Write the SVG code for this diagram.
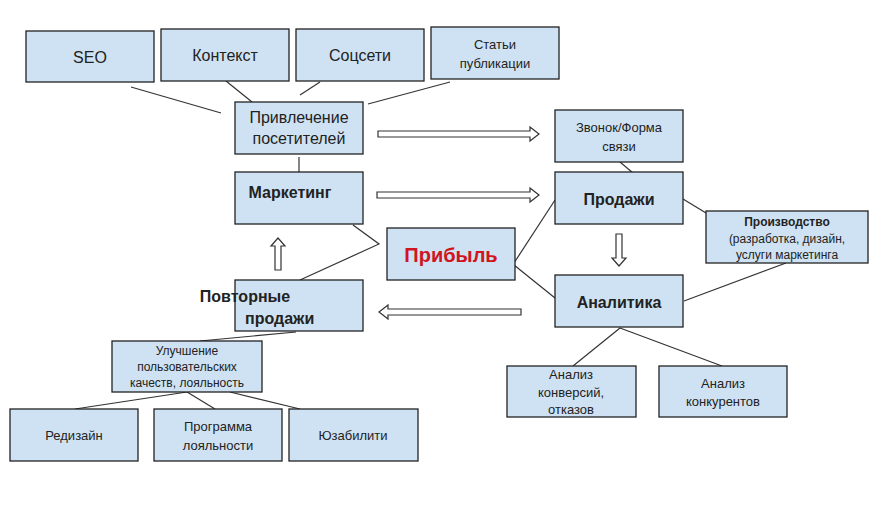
<svg xmlns="http://www.w3.org/2000/svg" width="894" height="507" viewBox="0 0 894 507">
<style>
.b{fill:#cfe2f3;stroke:#222;stroke-width:1.3}
.t{font-family:"Liberation Sans",Arial,sans-serif;fill:#222;text-anchor:middle}
.s{font-size:13px}.m{font-size:16px}.bd{font-weight:bold}
.c line,.c polyline{stroke:#333;stroke-width:1.2;fill:none}
.a{fill:#fff;stroke:#333;stroke-width:1.2}
</style>
<rect width="894" height="507" fill="#fff"/>
<g class="c">
<line x1="131" y1="87" x2="221" y2="113"/>
<line x1="226" y1="81" x2="252" y2="102"/>
<line x1="320" y1="82" x2="300" y2="95"/>
<line x1="450" y1="82" x2="368" y2="104"/>
<line x1="299" y1="157" x2="299" y2="172"/>
<polyline points="353,225 379,244 300,280"/>
<line x1="514" y1="263" x2="555" y2="200"/>
<line x1="514" y1="265" x2="555" y2="298"/>
<line x1="620" y1="162" x2="633" y2="173"/>
<line x1="683" y1="199" x2="711" y2="216"/>
<line x1="786" y1="263" x2="684" y2="301"/>
<line x1="620" y1="328" x2="573" y2="366"/>
<line x1="620" y1="328" x2="722" y2="366"/>
<line x1="296" y1="332" x2="200" y2="341"/>
<line x1="187" y1="392" x2="75" y2="409"/>
<line x1="187" y1="392" x2="215" y2="409"/>
<line x1="230" y1="392" x2="300" y2="409"/>
<polygon class="a" points="378,131 530,131 530,127 539,134 530,141 530,137 378,137"/>
<polygon class="a" points="377,192 530,192 530,188 539,195 530,202 530,198 377,198"/>
<polygon class="a" points="521,309 388,309 388,305 379,312 388,319 388,315 521,315"/>
<polygon class="a" points="616,234 622,234 622,258 626,258 619,266 612,258 616,258"/>
<polygon class="a" points="275,270 281,270 281,246 285,246 278,238 271,246 275,246"/>
</g>
<g id="seo"><rect class="b" x="26" y="31" width="128" height="51"/><text class="t m" x="90" y="63">SEO</text></g>
<g id="kontekst"><rect class="b" x="161" y="29" width="128" height="52"/><text class="t m" x="225" y="61">Контекст</text></g>
<g id="socseti"><rect class="b" x="296" y="29" width="128" height="52"/><text class="t m" x="360" y="61">Соцсети</text></g>
<g id="stati"><rect class="b" x="431" y="27" width="128" height="52"/><text class="t s" x="495" y="49">Статьи</text><text class="t s" x="495" y="68">публикации</text></g>
<g id="privlechenie"><rect class="b" x="235" y="102" width="128" height="52"/><text class="t m" x="299" y="123">Привлечение</text><text class="t m" x="299" y="144">посетителей</text></g>
<g id="marketing"><rect class="b" x="235" y="172" width="128" height="52"/><text class="t m bd" x="290" y="198">Маркетинг</text></g>
<g id="povtornye"><rect class="b" x="235" y="280" width="128" height="51"/><text class="t m bd" x="245" y="302" text-anchor="start">Повторные</text><text class="t m bd" x="245" y="324" style="text-anchor:start">продажи</text></g>
<g id="pribyl"><rect class="b" x="387" y="228" width="128" height="52"/><text class="t bd" x="451" y="262" font-size="20" fill="#d0151f" style="fill:#d0151f">Прибыль</text></g>
<g id="zvonok"><rect class="b" x="555" y="110" width="128" height="52"/><text class="t s" x="619" y="132">Звонок/Форма</text><text class="t s" x="619" y="151">связи</text></g>
<g id="prodazhi"><rect class="b" x="555" y="172" width="128" height="52"/><text class="t m bd" x="619" y="205">Продажи</text></g>
<g id="proizvodstvo"><rect class="b" x="706" y="211" width="162" height="52"/><text class="t bd" font-size="12" x="787" y="226">Производство</text><text class="t" font-size="12" x="787" y="243">(разработка, дизайн,</text><text class="t" font-size="12" x="787" y="259">услуги маркетинга</text></g>
<g id="analitika"><rect class="b" x="555" y="275" width="128" height="52"/><text class="t m bd" x="619" y="308">Аналитика</text></g>
<g id="konversii"><rect class="b" x="507" y="366" width="129" height="51"/><text class="t s" x="571" y="379">Анализ</text><text class="t s" x="571" y="397">конверсий,</text><text class="t s" x="571" y="414">отказов</text></g>
<g id="konkurenty"><rect class="b" x="659" y="366" width="128" height="51"/><text class="t s" x="723" y="388">Анализ</text><text class="t s" x="723" y="406">конкурентов</text></g>
<g id="uluchshenie"><rect class="b" x="112" y="341" width="150" height="51"/><text class="t" font-size="12" x="187" y="355">Улучшение</text><text class="t" font-size="12" x="187" y="371">пользовательских</text><text class="t" font-size="12" x="187" y="387">качеств, лояльность</text></g>
<g id="redizain"><rect class="b" x="10" y="409" width="128" height="52"/><text class="t s" x="74" y="440">Редизайн</text></g>
<g id="programma"><rect class="b" x="154" y="409" width="128" height="52"/><text class="t s" x="218" y="431">Программа</text><text class="t s" x="218" y="450">лояльности</text></g>
<g id="yuzabiliti"><rect class="b" x="289" y="409" width="129" height="52"/><text class="t s" x="353" y="440">Юзабилити</text></g>
</svg>
